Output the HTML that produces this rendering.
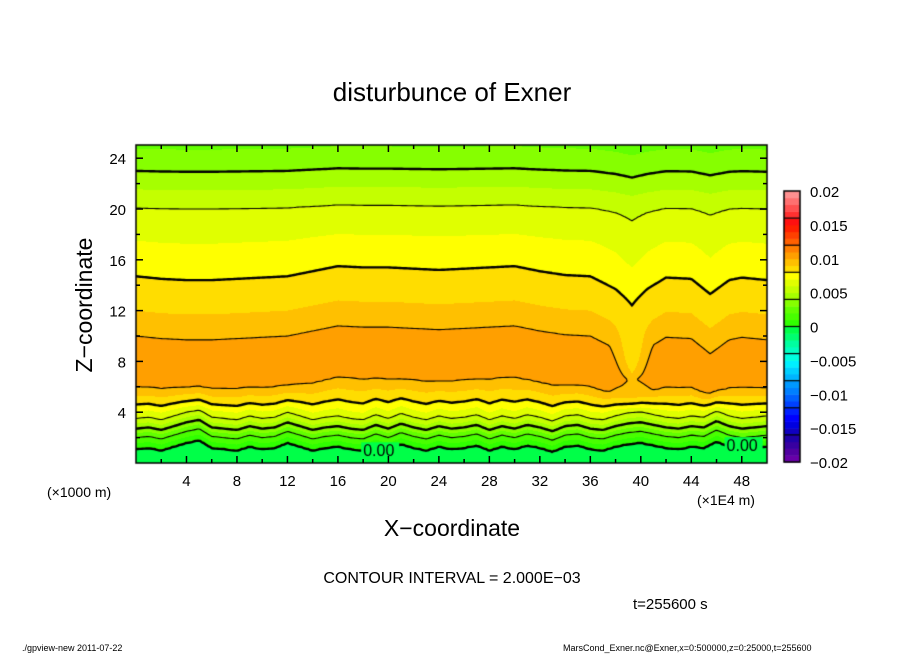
<!DOCTYPE html>
<html><head><meta charset="utf-8"><style>
html,body{margin:0;padding:0;background:#fff;width:904px;height:654px;overflow:hidden}
#wrap{position:relative;width:904px;height:654px}
canvas,svg{position:absolute;left:0;top:0}
text{font-family:"Liberation Sans",sans-serif;fill:#000}
</style></head><body>
<div id="wrap">
<canvas id="fill" width="904" height="654"></canvas>
<svg id="ov" width="904" height="654">
<text x="452" y="101" font-size="26" text-anchor="middle">disturbunce of Exner</text>
<text x="452" y="536" font-size="23" text-anchor="middle">X−coordinate</text>
<text transform="translate(92,305) rotate(-90)" font-size="23" text-anchor="middle">Z−coordinate</text>
<text x="47" y="497" font-size="14">(×1000 m)</text>
<text x="697" y="505" font-size="14">(×1E4 m)</text>
<text x="452" y="583" font-size="16" text-anchor="middle">CONTOUR INTERVAL = 2.000E−03</text>
<text x="633" y="609" font-size="15">t=255600 s</text>
<text x="22" y="651" font-size="9">./gpview-new   2011-07-22</text>
<text x="563" y="651" font-size="9">MarsCond_Exner.nc@Exner,x=0:500000,z=0:25000,t=255600</text>
<g id="axes"></g>
</svg>
</div>
<script>
// ---- data ----
const profZ=[0,1.1,2.0,2.7,3.5,4.6,6.0,8.0,10.0,12.0,14.7,17.5,20.1,23.0,25.1];
const profV=[-0.0008,0,0.002,0.004,0.006,0.008,0.010,0.0109,0.010,0.009,0.008,0.007,0.006,0.004,0.0028];
const upX=[0,2,4,6,8,10,12,14,16,18,20,22,24,26,28,30,32,34,36,38,39.3,40.5,42,44,45.5,47,48,50];
const upDz=[0,-0.2,-0.3,-0.3,-0.2,-0.1,0,0.4,0.8,0.7,0.7,0.6,0.5,0.6,0.7,0.8,0.4,0.1,0,-1.0,-2.1,-1.0,-0.1,-0.2,-1.4,-0.3,-0.1,-0.3];
const lowDz=[0,0.1,-0.1,0.2,0.5,0.7,0.1,0,-0.1,0.2,0,0.1,0.5,0.2,-0.1,0.1,0.2,0,-0.1,0.3,0,0.4,0.1,-0.1,0.2,0,0.1,0.3,-0.1,0.2,0,0.3,0.1,-0.2,0.2,0.3,0,-0.1,0.2,0.4,0.5,0.3,0.1,0,0.2,0.1,0.6,0.2,0,0.1,0.2];
const dropX=[0,37.5,38.5,39.3,40.2,41,50];
const dropV=[0,0,0.0008,0.0016,0.0008,0,0];
const contourLevels=[0,0.002,0.004,0.006,0.008,0.010];
const xTicks=[4,8,12,16,20,24,28,32,36,40,44,48];
const zTicks=[4,8,12,16,20,24];
const cbTicks=[0.02,0.015,0.01,0.005,0,-0.005,-0.01,-0.015,-0.02];
const cbLabels=["0.02","0.015","0.01","0.005","0","−0.005","−0.01","−0.015","−0.02"];
const bandColors=["#6800a8","#5000a0","#3800a0","#2000a8","#1000c0","#0000e0","#0000ff","#0020ff","#0040ff","#0060ff",
"#0080ff","#0098ff","#00b4ff","#00d0ff","#00f0ff","#00ffe0","#00ffc0","#00ffa0","#00ff70","#00ff48",
"#30ff00","#48ff00","#62ff00","#86ff00","#a6ff00","#c4ff00","#e0ff00","#ffff00","#ffdd00","#ffc000",
"#ff9f00","#ff7f00","#ff6000","#ff4000","#ff2000","#ff1010","#ff3030","#ff5050","#ff7070","#ff9090"];
// ---- geometry ----
const PX=136,PY=145,PW=631,PH=318,XMAX=50,ZMAX=PH/12.7;
const sx=x=>PX+x/XMAX*PW, sz=z=>PY+PH-z*12.7;
function interp(xs,ys,x){if(x<=xs[0])return ys[0];for(let i=1;i<xs.length;i++){if(x<=xs[i]){const t=(x-xs[i-1])/(xs[i]-xs[i-1]);return ys[i-1]+t*(ys[i]-ys[i-1]);}}return ys[ys.length-1];}
const lowXs=lowDz.map((_,i)=>i);
function field(x,z){
  let w=Math.min(1,Math.max(0,(z-4)/3));
  let up=interp(upX,upDz,x); if(z>16) up*=Math.max(0.25,1-(z-16)/6);
  const d=(1-w)*interp(lowXs,lowDz,x)+w*up;
  return interp(profZ,profV,z-d)-interp(dropX,dropV,x)*Math.exp(-Math.pow((z-8)/2.5,2));
}
function colorFor(v){let i=Math.floor((v+0.02)/0.001+1e-9);i=Math.max(0,Math.min(39,i));return bandColors[i];}
const cv=document.getElementById('fill');const ctx=cv.getContext('2d');
ctx.fillStyle='#fff';ctx.fillRect(0,0,904,654);
for(let px=0;px<PW;px++){for(let py=0;py<PH;py++){
  const x=(px+0.5)/PW*XMAX, z=(PH-py-0.5)/12.7;
  ctx.fillStyle=colorFor(field(x,z));ctx.fillRect(PX+px,PY+py,1,1);}}
const step=2,nx=Math.floor(PW/step)+1,nz=Math.floor(PH/step)+1;const G=[];
for(let j=0;j<nz;j++){G[j]=[];for(let i=0;i<nx;i++){G[j][i]=field(Math.min(i*step,PW)/PW*XMAX,(PH-Math.min(j*step,PH))/12.7);}}
ctx.save();ctx.beginPath();ctx.rect(PX,PY,PW,PH);ctx.clip();ctx.strokeStyle='#000';ctx.lineCap='round';
contourLevels.forEach(L=>{
  ctx.lineWidth=(Math.round(L/0.002)%2===0)?2.4:1.1;ctx.beginPath();
  for(let j=0;j<nz-1;j++)for(let i=0;i<nx-1;i++){
    const a=G[j][i],b=G[j][i+1],c=G[j+1][i+1],d=G[j+1][i];
    const x0=PX+i*step,y0=PY+j*step;const pts=[];
    const e=(p,q,xa,ya,xb,yb)=>{if((p<L)!==(q<L)){const t=(L-p)/(q-p);pts.push([xa+t*(xb-xa),ya+t*(yb-ya)]);}};
    e(a,b,x0,y0,x0+step,y0);e(b,c,x0+step,y0,x0+step,y0+step);e(d,c,x0,y0+step,x0+step,y0+step);e(a,d,x0,y0,x0,y0+step);
    for(let k=0;k+1<pts.length;k+=2){ctx.moveTo(pts[k][0],pts[k][1]);ctx.lineTo(pts[k+1][0],pts[k+1][1]);}
  }ctx.stroke();});
ctx.restore();
ctx.fillStyle='#000';ctx.font='16px "Liberation Sans",sans-serif';
[[18,0],[46.8,0]].forEach(([x,L])=>{let z=0.5;while(z<3&&field(x,z)<L)z+=0.05;const w=38;
  ctx.fillStyle=colorFor(-0.0005);ctx.fillRect(sx(x)-2,sz(z)-8,w,16);ctx.fillStyle='#000';ctx.fillText('0.00',sx(x),sz(z)+6);});
ctx.lineWidth=1.5;ctx.strokeStyle='#000';ctx.strokeRect(PX,PY,PW,PH);
const CX=784,CY=191,CW=16,CH=271;
for(let k=0;k<40;k++){const y0=CY+CH-(k+1)*CH/40;ctx.fillStyle=bandColors[k];ctx.fillRect(CX,y0,CW,CH/40+0.5);}
ctx.lineWidth=1.2;for(let v=-0.016;v<0.0199;v+=0.004){const y=CY+CH*(0.02-v)/0.04;ctx.beginPath();ctx.moveTo(CX,y);ctx.lineTo(CX+CW,y);ctx.stroke();}
ctx.lineWidth=1.5;ctx.strokeRect(CX,CY,CW,CH);
const ns='http://www.w3.org/2000/svg';const g=document.getElementById('axes');
function mk(tag,attrs,txt){const el=document.createElementNS(ns,tag);for(const k in attrs)el.setAttribute(k,attrs[k]);if(txt!==undefined)el.textContent=txt;g.appendChild(el);return el;}
for(let x=2;x<XMAX;x+=2){const big=x%4===0,len=big?7:4;
  let t=mk('line',{x1:sx(x),x2:sx(x),y1:PY+PH,y2:PY+PH-len,stroke:'#000','stroke-width':1.5});
  
  t=mk('line',{x1:sx(x),x2:sx(x),y1:PY,y2:PY+len,stroke:'#000','stroke-width':1.5});
  }
for(let z=2;z<ZMAX;z+=2){const big=z%4===0,len=big?7:4;
  let t=mk('line',{x1:PX,x2:PX+len,y1:sz(z),y2:sz(z),stroke:'#000','stroke-width':1.5});
  
  t=mk('line',{x1:PX+PW,x2:PX+PW-len,y1:sz(z),y2:sz(z),stroke:'#000','stroke-width':1.5});
  }
xTicks.forEach(x=>{const t=mk('text',{x:sx(x),y:486,'font-size':15,'text-anchor':'middle'},String(x));
  });
zTicks.forEach(z=>{const t=mk('text',{x:126,y:sz(z)+6,'font-size':15,'text-anchor':'end'},String(z));
  });
cbTicks.forEach((v,i)=>{const t=mk('text',{x:810,y:CY+CH*(0.02-v)/0.04+6,'font-size':15},cbLabels[i]);
  });
</script>
</body></html>
